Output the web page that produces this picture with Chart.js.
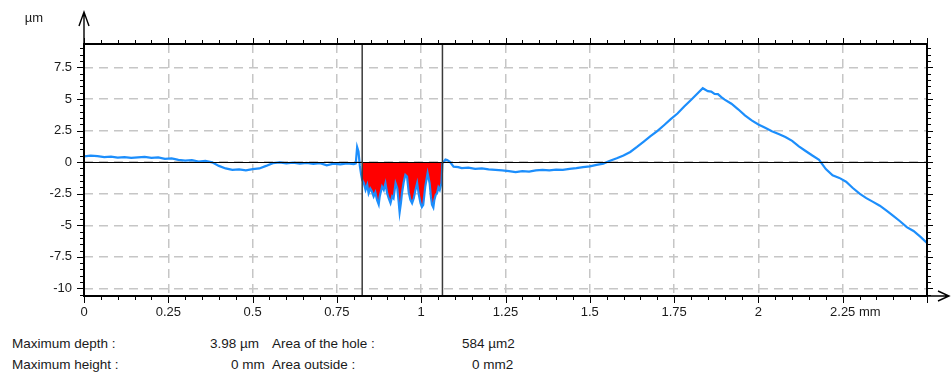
<!DOCTYPE html>
<html>
<head>
<meta charset="utf-8">
<script src="https://cdn.jsdelivr.net/npm/chart.js@4.4.0/dist/chart.umd.min.js"></script>
<style>
  body { margin: 0; background: #fff; font-family: "Liberation Sans", Arial, sans-serif; }
  #wrap { position: relative; width: 952px; height: 372px; }
  #profile { position: absolute; left: 0; top: 0; }
  .t { position: absolute; font-size: 13.5px; color: #1a1a1a; line-height: 16px; white-space: nowrap; }
</style>
</head>
<body>
<div id="wrap">
  <canvas id="profile" width="952" height="320"></canvas>
  <div class="t" style="left:12px;top:336px">Maximum depth :</div>
  <div class="t" style="left:210px;top:336px">3.98 µm</div>
  <div class="t" style="left:272px;top:336px">Area of the hole :</div>
  <div class="t" style="left:462px;top:336px">584 µm2</div>
  <div class="t" style="left:12px;top:357px">Maximum height :</div>
  <div class="t" style="left:231px;top:357px">0 mm</div>
  <div class="t" style="left:272px;top:357px">Area outside :</div>
  <div class="t" style="left:472px;top:357px">0 mm2</div>
</div>
<script>
// Profile: [position in mm, height in µm]
var profileLeft = [
  [0, 0.45], [0.02, 0.52], [0.04, 0.48], [0.06, 0.40], [0.08, 0.44], [0.10, 0.36],
  [0.12, 0.40], [0.14, 0.33], [0.16, 0.38], [0.18, 0.42], [0.20, 0.34], [0.22, 0.38],
  [0.24, 0.26], [0.26, 0.30], [0.28, 0.18], [0.30, 0.12], [0.32, 0.16], [0.34, 0.05],
  [0.36, 0.10], [0.38, -0.02], [0.40, -0.30], [0.42, -0.50], [0.44, -0.62], [0.46, -0.58],
  [0.48, -0.65], [0.50, -0.56], [0.52, -0.50], [0.54, -0.30], [0.56, -0.08], [0.58, -0.02],
  [0.60, -0.10], [0.62, -0.04], [0.64, -0.12], [0.66, -0.06], [0.68, -0.14], [0.70, -0.08],
  [0.72, -0.25], [0.74, -0.12], [0.76, -0.18], [0.78, -0.10], [0.80, -0.16], [0.806, -0.10],
  [0.810, 1.20], [0.814, 0.85], [0.818, -0.30], [0.822, -1.00]
];

var profileHole = [
  [0.825, -1.41], [0.830, -1.67], [0.835, -2.20], [0.840, -1.80], [0.844, -2.46], [0.849, -2.10],
  [0.854, -2.33], [0.859, -2.72], [0.864, -2.40], [0.869, -2.99], [0.874, -3.35], [0.877, -2.72],
  [0.884, -1.94], [0.889, -2.20], [0.894, -1.68], [0.899, -2.46], [0.904, -2.90], [0.909, -3.25],
  [0.914, -2.72], [0.918, -2.86], [0.924, -1.68], [0.929, -2.07], [0.933, -3.10], [0.936, -3.98],
  [0.940, -3.20], [0.943, -2.46], [0.948, -1.60], [0.953, -1.02], [0.958, -1.15], [0.963, -2.40],
  [0.968, -2.99], [0.973, -3.25], [0.978, -2.86], [0.983, -2.20], [0.988, -1.67], [0.993, -2.59],
  [0.998, -3.25], [1.002, -3.55], [1.006, -3.38], [1.012, -1.94], [1.019, -0.88], [1.025, -1.67],
  [1.029, -2.80], [1.032, -3.38], [1.036, -3.60], [1.039, -2.99], [1.043, -2.60], [1.047, -2.46],
  [1.051, -2.00], [1.055, -2.20], [1.060, -1.67], [1.063, -0.10]
];

var profileRight = [
  [1.067, 0.03], [1.072, 0.20], [1.077, 0.17], [1.085, 0.02], [1.096, -0.36], [1.11, -0.40],
  [1.12, -0.48], [1.14, -0.44], [1.16, -0.54], [1.18, -0.50], [1.20, -0.58], [1.22, -0.62],
  [1.24, -0.66], [1.26, -0.72], [1.28, -0.80], [1.30, -0.72], [1.32, -0.76], [1.34, -0.66],
  [1.36, -0.62], [1.38, -0.66], [1.40, -0.60], [1.42, -0.62], [1.44, -0.54], [1.46, -0.48],
  [1.48, -0.40], [1.50, -0.34], [1.52, -0.22], [1.54, -0.12], [1.56, 0.10], [1.58, 0.30],
  [1.60, 0.52], [1.62, 0.80], [1.64, 1.20], [1.66, 1.62], [1.68, 2.05], [1.70, 2.45],
  [1.72, 2.92], [1.74, 3.40], [1.76, 3.85], [1.78, 4.40], [1.80, 4.92], [1.82, 5.45],
  [1.835, 5.85], [1.85, 5.62], [1.86, 5.58], [1.87, 5.40], [1.88, 5.38], [1.89, 5.15],
  [1.90, 4.95], [1.92, 4.62], [1.94, 4.18], [1.96, 3.70], [1.98, 3.30], [2.00, 2.98],
  [2.02, 2.72], [2.04, 2.45], [2.06, 2.22], [2.08, 1.98], [2.10, 1.68], [2.12, 1.25],
  [2.14, 0.88], [2.16, 0.52], [2.18, 0.18], [2.20, -0.55], [2.22, -1.05], [2.24, -1.25],
  [2.26, -1.55], [2.28, -2.05], [2.30, -2.50], [2.32, -2.85], [2.34, -3.15], [2.36, -3.45],
  [2.38, -3.85], [2.40, -4.25], [2.42, -4.68], [2.44, -5.15], [2.46, -5.45], [2.48, -5.90],
  [2.50, -6.40]
];

// Hole cursors (mm)
var holeStart = 0.825;
var holeEnd = 1.063;

// Axis ticks
var xTicks = [0, 0.25, 0.5, 0.75, 1, 1.25, 1.5, 1.75, 2, 2.25];
var xLabels = ["0", "0.25", "0.5", "0.75", "1", "1.25", "1.5", "1.75", "2", "2.25"];
var yTicks = [-10, -7.5, -5, -2.5, 0, 2.5, 5, 7.5];
var xUnit = "mm";
var yUnit = "µm";

var FONT = '"Liberation Sans", Arial, sans-serif';

var allPoints = profileLeft.concat(profileHole, profileRight).map(function (p) {
  return { x: p[0], y: p[1] };
});
var holePoints = allPoints.filter(function (p) {
  return p.x >= holeStart && p.x <= holeEnd;
});

// Draws the box, tick marks, cursors, arrows and the x labels.
var decorPlugin = {
  id: "decor",
  afterDatasetsDraw: function (chart) {
    var ctx = chart.ctx, a = chart.chartArea;
    var xs = chart.scales.x, ys = chart.scales.y;
    ctx.save();
    // zero line
    var y0 = Math.round(ys.getPixelForValue(0)) + 0.5;
    ctx.strokeStyle = "#000";
    ctx.lineWidth = 1.2;
    ctx.beginPath();
    ctx.moveTo(a.left, y0);
    ctx.lineTo(a.right, y0);
    ctx.stroke();
    // hole cursors
    ctx.strokeStyle = "#3a3a3a";
    ctx.lineWidth = 1.5;
    [holeStart, holeEnd].forEach(function (v) {
      var px = xs.getPixelForValue(v);
      ctx.beginPath();
      ctx.moveTo(px, a.top);
      ctx.lineTo(px, a.bottom);
      ctx.stroke();
    });
    ctx.restore();
  },
  afterDraw: function (chart) {
    var ctx = chart.ctx, a = chart.chartArea;
    var xs = chart.scales.x, ys = chart.scales.y;
    ctx.save();
    ctx.strokeStyle = "#000";

    // minor + major tick marks on all four sides
    ctx.lineWidth = 1;
    ctx.beginPath();
    for (var i = 0; i <= 50; i++) {
      var px = Math.round(xs.getPixelForValue(i * 0.05)) + 0.5;
      var major = i % 5 === 0;
      ctx.moveTo(px, a.bottom);
      ctx.lineTo(px, a.bottom + (major ? 7 : 4));
      ctx.moveTo(px, a.top);
      ctx.lineTo(px, a.top - (major ? 6 : 4));
    }
    for (var j = -21; j <= 18; j++) {
      var py = Math.round(ys.getPixelForValue(j * 0.5)) + 0.5;
      var maj = j % 5 === 0;
      ctx.moveTo(a.left, py);
      ctx.lineTo(a.left - (maj ? 7 : 4), py);
      ctx.moveTo(a.right, py);
      ctx.lineTo(a.right + (maj ? 6 : 4), py);
    }
    ctx.stroke();

    // frame
    ctx.lineWidth = 2;
    ctx.strokeRect(a.left, a.top, a.right - a.left, a.bottom - a.top);

    // y axis arrow
    ctx.lineWidth = 1.4;
    ctx.beginPath();
    ctx.moveTo(a.left, a.top);
    ctx.lineTo(a.left, 12);
    ctx.moveTo(a.left - 5, 26);
    ctx.lineTo(a.left, 12);
    ctx.lineTo(a.left + 5, 26);
    // x axis arrow
    ctx.moveTo(a.right, a.bottom);
    ctx.lineTo(949, a.bottom);
    ctx.moveTo(938, a.bottom - 5);
    ctx.lineTo(949, a.bottom);
    ctx.lineTo(938, a.bottom + 5);
    ctx.stroke();

    // labels
    ctx.fillStyle = "#1a1a1a";
    ctx.font = "13px " + FONT;
    ctx.textBaseline = "middle";
    ctx.textAlign = "right";
    ctx.fillText(yUnit, 43, 18);
    ctx.textAlign = "center";
    xTicks.forEach(function (v, k) {
      var px = xs.getPixelForValue(v);
      ctx.fillText(xLabels[k], px, 312);
      if (k === xTicks.length - 1) {
        ctx.textAlign = "left";
        ctx.fillText(" " + xUnit, px + ctx.measureText(xLabels[k]).width / 2, 312);
        ctx.textAlign = "center";
      }
    });
    ctx.restore();
  }
};

var config = {
  type: "line",
  data: {
    datasets: [
      {
        label: "Profile",
        data: allPoints,
        borderColor: "rgb(28,142,252)",
        borderWidth: 2.2,
        pointRadius: 0,
        tension: 0,
        fill: false,
        order: 0
      },
      {
        label: "Hole",
        data: holePoints,
        borderWidth: 0,
        borderColor: "rgba(0,0,0,0)",
        backgroundColor: "#ff0000",
        pointRadius: 0,
        tension: 0,
        fill: "origin",
        order: 1
      }
    ]
  },
  options: {
    responsive: false,
    animation: false,
    layout: { padding: { left: 0, top: 44, right: 25, bottom: 0 } },
    plugins: { legend: { display: false }, tooltip: { enabled: false } },
    scales: {
      x: {
        type: "linear",
        min: 0,
        max: 2.5,
        afterBuildTicks: function (s) { s.ticks = xTicks.map(function (v) { return { value: v }; }); },
        afterFit: function (s) { s.height = 24; },
        ticks: { display: false },
        grid: { color: "#c6c6c6", lineWidth: 1.5, drawTicks: false },
        border: { display: false, dash: [9, 6] }
      },
      y: {
        min: -10.6,
        max: 9.35,
        afterBuildTicks: function (s) { s.ticks = yTicks.map(function (v) { return { value: v }; }); },
        afterFit: function (s) { s.width = 84; },
        ticks: {
          color: "#1a1a1a",
          font: { family: FONT, size: 13 },
          padding: 12,
          callback: function (v) { return String(v); }
        },
        grid: { color: "#c6c6c6", lineWidth: 1.5, drawTicks: false },
        border: { display: false, dash: [9, 6] }
      }
    }
  },
  plugins: [decorPlugin]
};

var profileChart = new Chart(document.getElementById("profile"), config);
</script>
</body>
</html>
